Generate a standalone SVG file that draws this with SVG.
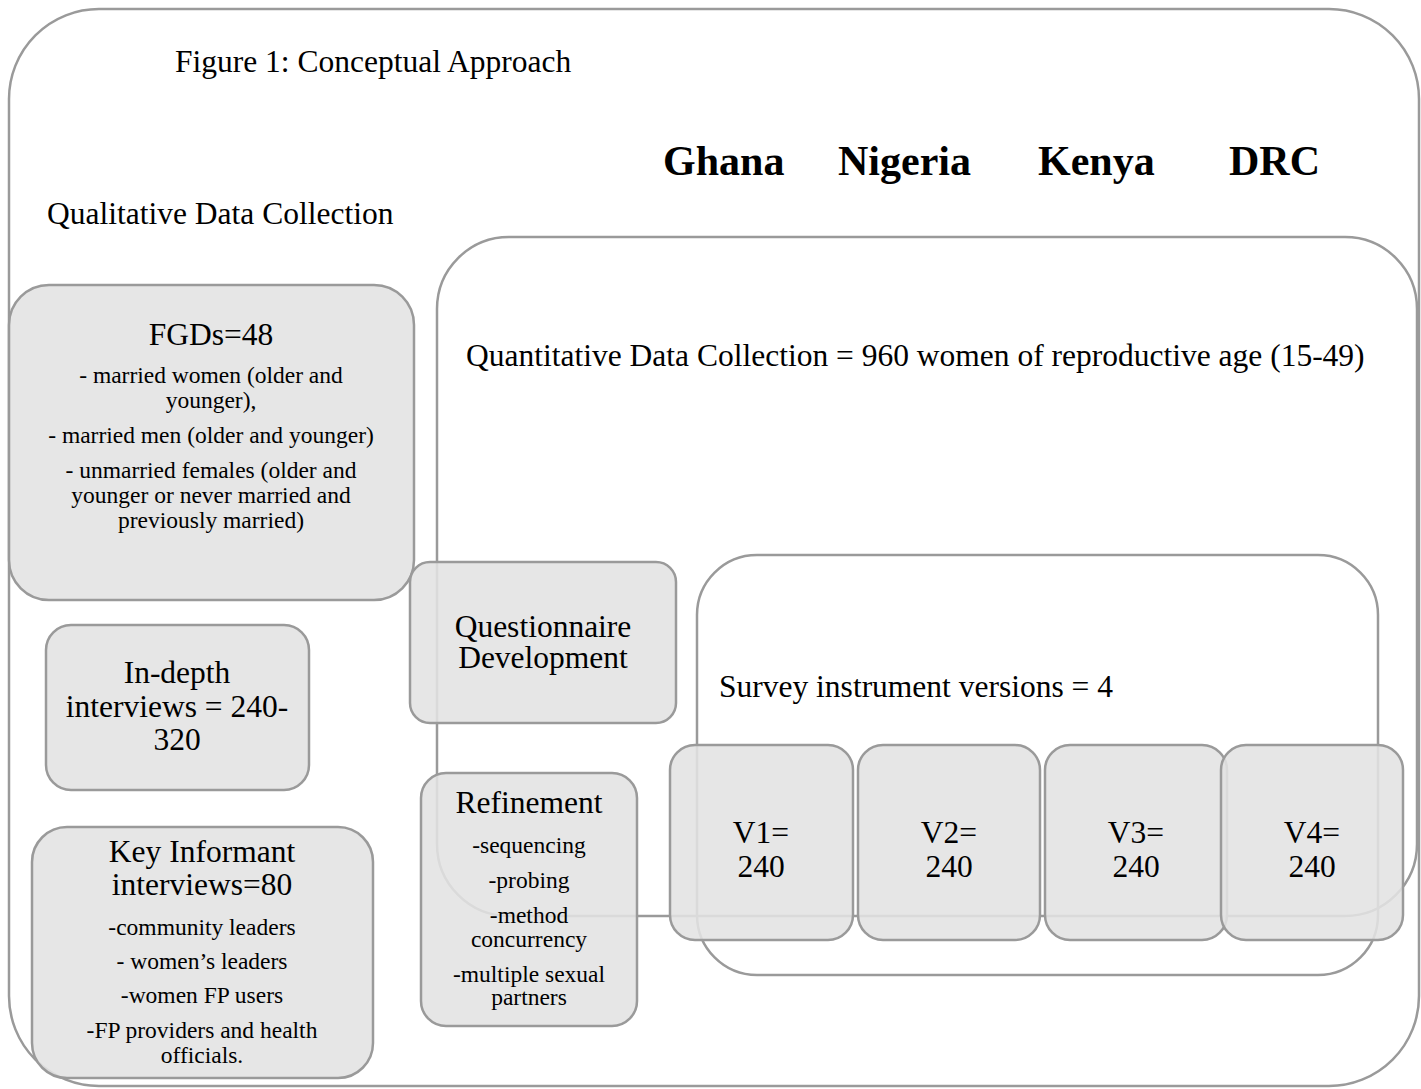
<svg xmlns="http://www.w3.org/2000/svg" width="1421" height="1089" viewBox="0 0 1421 1089">
<style>
.frame{fill:none;stroke:#9a9a9a;stroke-width:2.5}
.box{fill:#e2e2e2;fill-opacity:0.88;stroke:#9a9a9a;stroke-width:2.5}
text{font-family:"Liberation Serif","Times New Roman",serif;fill:#000}
.h{font-size:31.5px}
.s{font-size:23.5px}
.c{text-anchor:middle}
.b{font-size:42px;font-weight:bold}
</style>
<rect width="1421" height="1089" fill="#fff"/>
<g id="outer">
<rect class="frame" x="9" y="9" width="1410" height="1077" rx="90" ry="90"/>
<text class="h" x="175" y="72">Figure 1: Conceptual Approach</text>
<text class="b" x="663" y="175">Ghana</text>
<text class="b" x="838" y="175">Nigeria</text>
<text class="b" x="1038" y="175">Kenya</text>
<text class="b" x="1229" y="175">DRC</text>
<text class="h" x="47" y="224">Qualitative Data Collection</text>
</g>
<g id="quantitative">
<rect class="frame" x="437" y="237" width="980" height="679" rx="72" ry="72" fill="#fff"/>
<text class="h" x="466" y="366">Quantitative Data Collection = 960 women of reproductive age (15-49)</text>
</g>
<g id="survey">
<rect class="frame" x="697" y="555" width="681" height="420" rx="60" ry="60" fill="#fff"/>
<text class="h" x="719" y="697">Survey instrument versions = 4</text>
</g>
<g id="connectors"/>
<g id="fgd">
<rect class="box" x="9" y="285" width="405" height="315" rx="40" ry="40"/>
<text class="h c" x="211" y="345">FGDs=48</text>
<text class="s c" x="211" y="383">- married women (older and</text>
<text class="s c" x="211" y="408">younger),</text>
<text class="s c" x="211" y="443">- married men (older and younger)</text>
<text class="s c" x="211" y="478">- unmarried females (older and</text>
<text class="s c" x="211" y="503">younger or never married and</text>
<text class="s c" x="211" y="528">previously married)</text>
</g>
<g id="indepth">
<rect class="box" x="46" y="625" width="263" height="165" rx="25" ry="25"/>
<text class="h c" x="177" y="683">In-depth</text>
<text class="h c" x="177" y="717">interviews = 240-</text>
<text class="h c" x="177" y="750">320</text>
</g>
<g id="keyinformant">
<rect class="box" x="32" y="827" width="341" height="251" rx="35" ry="35"/>
<text class="h c" x="202" y="862">Key Informant</text>
<text class="h c" x="202" y="895">interviews=80</text>
<text class="s c" x="202" y="935">-community leaders</text>
<text class="s c" x="202" y="969">- women’s leaders</text>
<text class="s c" x="202" y="1003">-women FP users</text>
<text class="s c" x="202" y="1038">-FP providers and health</text>
<text class="s c" x="202" y="1063">officials.</text>
</g>
<g id="questionnaire">
<rect class="box" x="410" y="562" width="266" height="161" rx="20" ry="20"/>
<text class="h c" x="543" y="637">Questionnaire</text>
<text class="h c" x="543" y="668">Development</text>
</g>
<g id="refinement">
<rect class="box" x="421" y="773" width="216" height="253" rx="25" ry="25"/>
<text class="h c" x="529" y="813">Refinement</text>
<text class="s c" x="529" y="853">-sequencing</text>
<text class="s c" x="529" y="888">-probing</text>
<text class="s c" x="529" y="923">-method</text>
<text class="s c" x="529" y="947">concurrency</text>
<text class="s c" x="529" y="982">-multiple sexual</text>
<text class="s c" x="529" y="1005">partners</text>
</g>
<g id="v1">
<rect class="box" x="670" y="745" width="183" height="195" rx="25" ry="25"/>
<text class="h c" x="761" y="843">V1=</text>
<text class="h c" x="761" y="877">240</text>
</g>
<g id="v2">
<rect class="box" x="858" y="745" width="182" height="195" rx="25" ry="25"/>
<text class="h c" x="949" y="843">V2=</text>
<text class="h c" x="949" y="877">240</text>
</g>
<g id="v3">
<rect class="box" x="1045" y="745" width="182" height="195" rx="25" ry="25"/>
<text class="h c" x="1136" y="843">V3=</text>
<text class="h c" x="1136" y="877">240</text>
</g>
<g id="v4">
<rect class="box" x="1221" y="745" width="182" height="195" rx="25" ry="25"/>
<text class="h c" x="1312" y="843">V4=</text>
<text class="h c" x="1312" y="877">240</text>
</g>
</svg>
